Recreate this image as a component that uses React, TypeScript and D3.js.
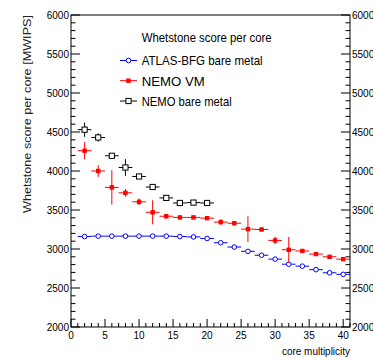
import * as d3 from "d3";

// core multiplicity (bin centres, bin width 2)
const cores = [2, 4, 6, 8, 10, 12, 14, 16, 18, 20, 22, 24, 26, 28, 30, 32, 34, 36, 38, 40];

const atlasScore = [3160, 3165, 3165, 3165, 3165, 3165, 3165, 3160, 3155, 3135, 3080, 3025, 2970, 2920, 2870, 2805, 2780, 2735, 2695, 2675];
const atlasErr = [4, 4, 4, 4, 4, 4, 4, 4, 4, 4, 4, 4, 4, 4, 4, 4, 4, 4, 4, 4];

const vmScore = [4260, 4000, 3790, 3720, 3605, 3470, 3420, 3405, 3405, 3395, 3345, 3330, 3255, 3250, 3110, 2990, 2975, 2935, 2900, 2870];
const vmErr = [110, 75, 220, 50, 45, 155, 30, 15, 15, 15, 35, 15, 165, 15, 47, 165, 15, 15, 15, 15];

const bareScore = [4530, 4430, 4195, 4045, 3930, 3795, 3655, 3590, 3595, 3590];
const bareErr = [92, 53, 20, 107, 15, 10, 10, 10, 10, 10];

const legendTitle = "Whetstone score per core";
const seriesNames = ["ATLAS-BFG bare metal", "NEMO VM", "NEMO bare metal"];
const yTicks = [2000, 2500, 3000, 3500, 4000, 4500, 5000, 5500, 6000];
const xTicks = [0, 5, 10, 15, 20, 25, 30, 35, 40];

const W = 373;
const H = 357;
const left = 71;
const right = 350;
const top = 15;
const bottom = 327;

const x = d3.scaleLinear().domain([0, 41]).range([left, right]);
const y = d3.scaleLinear().domain([2000, 6000]).range([bottom, top]);

const font = "'Liberation Sans', Arial, Helvetica, sans-serif";

type Pt = { c: number; v: number; e: number };

function Marker({ kind, cx, cy, color }: { kind: string; cx: number; cy: number; color: string }) {
  if (kind === "circle") return <circle cx={cx} cy={cy} r={2.3} fill="white" />;
  if (kind === "fsquare") return <rect x={cx - 1.7} y={cy - 1.7} width={3.4} height={3.4} fill={color} />;
  return <rect x={cx - 2.6} y={cy - 2.6} width={5.2} height={5.2} fill="white" />;
}

function Series({ pts, color, marker }: { pts: Pt[]; color: string; marker: string }) {
  return (
    <g stroke={color} strokeWidth={1}>
      {pts.map((p, i) => {
        const cx = x(p.c);
        const cy = y(p.v);
        return (
          <g key={i}>
            <line x1={x(p.c - 1)} x2={x(p.c + 1)} y1={cy} y2={cy} />
            <line x1={cx} x2={cx} y1={y(p.v - p.e)} y2={y(p.v + p.e)} />
            <Marker kind={marker} cx={cx} cy={cy} color={color} />
          </g>
        );
      })}
    </g>
  );
}

export default function App() {
  const atlas = cores.map((c, i) => ({ c, v: atlasScore[i], e: atlasErr[i] }));
  const vm = cores.map((c, i) => ({ c, v: vmScore[i], e: vmErr[i] }));
  const bare = bareScore.map((v, i) => ({ c: cores[i], v, e: bareErr[i] }));

  const yMinor = d3.range(2000, 6001, 100);
  const xMinor = d3.range(0, 42, 1);

  const legend = [
    { name: seriesNames[0], color: "blue", marker: "circle", len: 121 },
    { name: seriesNames[1], color: "red", marker: "fsquare", len: 63 },
    { name: seriesNames[2], color: "black", marker: "osquare", len: 90 },
  ];
  const legendY = [60.5, 80.7, 101];

  return (
    <svg width={W} height={H} style={{ position: "absolute", left: 0, top: 0, background: "white" }} fontFamily={font}>
      <rect x={0} y={0} width={W} height={H} fill="white" />

      {/* ticks */}
      <g stroke="black" strokeWidth={1}>
        {yMinor.map((v) => {
          const len = v % 500 === 0 ? 9 : 4.5;
          return (
            <g key={v}>
              <line x1={left} x2={left + len} y1={y(v)} y2={y(v)} />
              <line x1={right} x2={right - len} y1={y(v)} y2={y(v)} />
            </g>
          );
        })}
        {xMinor.map((v) => {
          const len = v % 5 === 0 ? 8 : 4;
          return <line key={v} x1={x(v)} x2={x(v)} y1={bottom} y2={bottom - len} />;
        })}
      </g>

      {/* tick labels */}
      <g fontSize={10} fill="black">
        {yTicks.map((v) => (
          <g key={v}>
            <text x={left - 2} y={y(v) + 3.5} textAnchor="end">{v}</text>
            <text x={right + 2} y={y(v) + 3.5} textAnchor="start">{v}</text>
          </g>
        ))}
        {xTicks.map((v) => (
          <text key={v} x={x(v)} y={339} textAnchor="middle">{v}</text>
        ))}
      </g>

      {/* axis titles */}
      <text transform={`translate(31,${top}) rotate(-90)`} textAnchor="end" fontSize={11.8} textLength={198} lengthAdjust="spacingAndGlyphs" fill="#222">
        Whetstone score per core [MWIPS]
      </text>
      <text x={right} y={355} textAnchor="end" fontSize={10.5} textLength={68} lengthAdjust="spacingAndGlyphs">
        core multiplicity
      </text>

      {/* data */}
      <Series pts={atlas} color="blue" marker="circle" />
      <Series pts={vm} color="red" marker="fsquare" />
      <Series pts={bare} color="black" marker="osquare" />

      {/* legend */}
      <text x={141.7} y={41.5} fontSize={13} textLength={130} lengthAdjust="spacingAndGlyphs">{legendTitle}</text>
      {legend.map((l, i) => (
        <g key={l.name}>
          <g stroke={l.color} strokeWidth={1}>
            <line x1={120} x2={137} y1={legendY[i]} y2={legendY[i]} />
            <Marker kind={l.marker} cx={128.5} cy={legendY[i]} color={l.color} />
          </g>
          <text x={141.7} y={legendY[i] + 4.8} fontSize={13} textLength={l.len} lengthAdjust="spacingAndGlyphs">
            {l.name}
          </text>
        </g>
      ))}

      {/* frame */}
      <rect x={left} y={top} width={right - left} height={bottom - top} fill="none" stroke="black" strokeWidth={1} />
    </svg>
  );
}
